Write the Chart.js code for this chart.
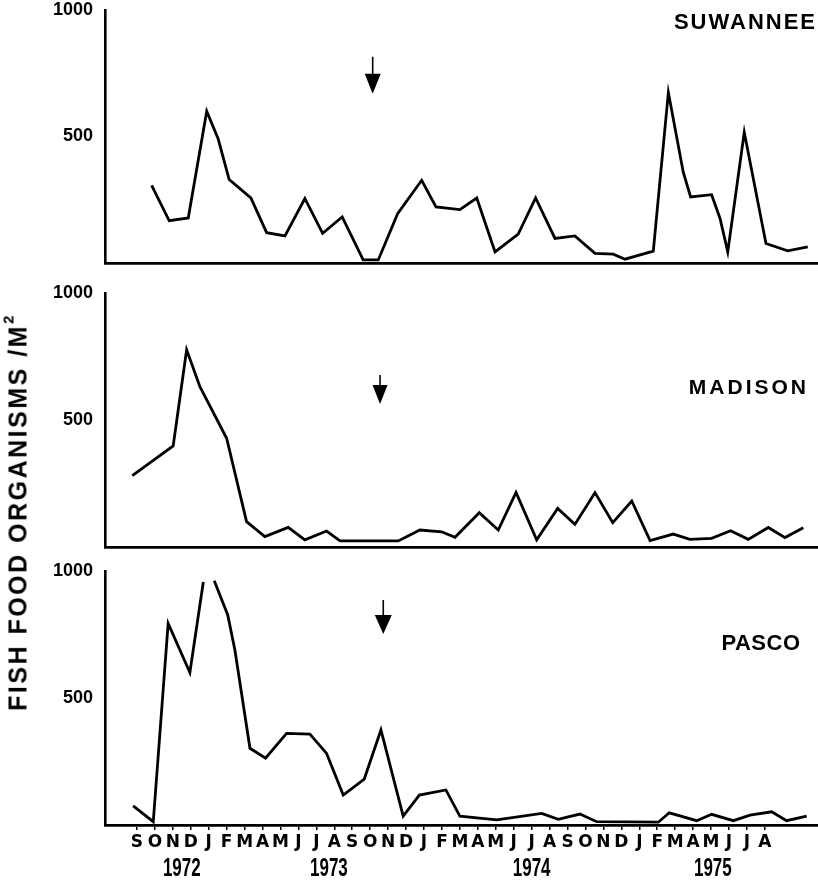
<!DOCTYPE html>
<html><head><meta charset="utf-8">
<script src="https://cdn.jsdelivr.net/npm/chart.js@4.4.1/dist/chart.umd.min.js"></script>
<style>
html,body{margin:0;padding:0;background:#fff;}
#wrap{position:relative;width:818px;height:881px;overflow:hidden;background:#fff;}
#wrap canvas{position:absolute;left:0;top:0;}
#ytitle{position:absolute;left:18px;top:512px;transform:translate(-50%,-50%) rotate(-90deg);white-space:nowrap;font-family:'Liberation Sans',Arial,sans-serif;font-weight:bold;font-size:25px;letter-spacing:2.5px;color:#000;}
#ytitle sup{font-size:15px;vertical-align:top;position:relative;top:-4px;}
</style></head>
<body><div id="wrap">
<canvas id="c1" width="818" height="881"></canvas>
<canvas id="c2" width="818" height="881"></canvas>
<canvas id="c3" width="818" height="881"></canvas>
<div id="ytitle">FISH FOOD ORGANISMS /M<sup>2</sup></div>
</div>
<script>
// ---- categories / tick labels ----
const monthLabels = ['S','O','N','D','J','F','M','A','M','J','J','A',
                     'S','O','N','D','J','F','M','A','M','J','J','A',
                     'S','O','N','D','J','F','M','A','M','J','J','A'];
const yearLabels = ['1972','1973','1974','1975'];
const yearTickMonths = [2.5, 10.7, 22.0, 32.1];
const yTickValues = [500, 1000];
const siteNames = ['SUWANNEE','MADISON','PASCO'];

// ---- series (x in months from Sep 1972, y in organisms / m2) ----
const suwanneeMonths = [0.82,1.80,2.86,3.89,4.53,5.14,6.35,7.23,8.25,9.36,10.35,11.44,12.61,13.45,14.53,15.87,16.67,18.00,18.94,19.96,21.25,22.22,23.30,24.41,25.53,26.55,27.20,28.78,29.62,30.45,30.86,32.03,32.50,32.93,33.85,35.06,36.27,37.39];
const suwanneeValues = [307,167,178,600,490,330,257,120,107,255,117,182,12,12,195,327,222,211,257,44,114,257,97,107,38,35,15,47,674,359,261,270,176,44,517,77,48,64];

const madisonMonths = [-0.26,2.02,2.77,3.51,5.00,6.11,7.13,8.43,9.36,10.57,11.32,14.57,15.77,16.98,17.73,19.08,20.14,21.13,22.28,23.45,24.41,25.53,26.52,27.58,28.60,29.89,30.82,32.03,33.09,34.07,35.19,36.12,37.14];
const madisonValues = [281,398,776,631,428,100,41,77,28,63,24,24,67,60,38,135,67,215,28,152,89,214,96,181,25,51,30,34,64,30,77,37,76];

const pascoMonths = [-0.21,0.91,1.74,2.95,3.70,4.0,4.31,5.06,5.46,6.30,7.17,8.34,9.64,10.57,11.50,12.67,13.60,14.84,15.74,17.22,18.00,20.05,22.56,23.48,24.69,25.62,29.06,29.67,31.20,32.03,33.24,34.17,35.38,36.21,37.33];
const pascoValues = [75,13,794,600,957,null,962,827,689,302,263,361,358,282,118,181,374,35,118,138,35,20,46,22,43,13,11,48,17,42,17,39,52,17,35];

// ---- arrows marking the event ----
const arrowMonths = [13.14, 13.55, 13.73];
const arrowTopValues = [815, 677, 886];
const arrowTipValues = [669, 563, 752];

// ---- layout / style (pixels) ----
const W = 818, H = 881;
const xMin = -1.78, xMax = 37.96;
const panelGeom = [
  {top:10,  bottom:263, titleY:23,  titleRight:815, titleSize:22, titleSpacing:2,   headW:16, headL:20},
  {top:293, bottom:547, titleY:388, titleRight:806, titleSize:21, titleSpacing:3,   headW:15, headL:19},
  {top:571, bottom:825, titleY:644, titleRight:800, titleSize:22, titleSpacing:0.5, headW:17, headL:19}
];
const FONT = "'Liberation Sans', Arial, sans-serif";
const HEAVY = "'DejaVu Sans', 'Liberation Sans', sans-serif";

const annot = {
  id: 'annot',
  afterDatasetsDraw(chart, args, o) {
    const {ctx} = chart;
    const x = chart.scales.x, y = chart.scales.y;
    ctx.save();
    ctx.strokeStyle = '#000'; ctx.fillStyle = '#000';
    // arrow
    const ax = x.getPixelForValue(o.arrowMonth);
    const yTop = y.getPixelForValue(o.arrowTop);
    const yTip = y.getPixelForValue(o.arrowTip);
    ctx.lineWidth = 1.6;
    ctx.beginPath(); ctx.moveTo(ax, yTop); ctx.lineTo(ax, yTip - o.headL + 2); ctx.stroke();
    ctx.beginPath();
    ctx.moveTo(ax - o.headW / 2, yTip - o.headL);
    ctx.lineTo(ax + o.headW / 2, yTip - o.headL);
    ctx.lineTo(ax, yTip);
    ctx.closePath(); ctx.fill();
    // site name
    ctx.font = 'bold ' + o.titleSize + 'px ' + FONT;
    ctx.letterSpacing = o.titleSpacing + 'px';
    ctx.textAlign = 'right'; ctx.textBaseline = 'middle';
    ctx.fillText(o.title, o.titleRight + o.titleSpacing, o.titleY);
    ctx.letterSpacing = '0px';
    // years
    if (o.years) {
      ctx.font = 'bold 25px ' + FONT;
      ctx.textAlign = 'center';
      yearLabels.forEach((lab, i) => {
        const px = x.getPixelForValue(yearTickMonths[i]);
        ctx.save();
        ctx.translate(px, 869);
        ctx.scale(0.68, 1);
        ctx.fillText(lab, 0, 0);
        ctx.restore();
      });
    }
    ctx.restore();
  }
};

function makeChart(id, months, values, idx, isBottom) {
  const g = panelGeom[idx];
  return new Chart(document.getElementById(id), {
    type: 'line',
    data: {datasets: [{
      data: months.map((m, i) => ({x: m, y: values[i]})),
      borderColor: '#000', borderWidth: 2.8, pointRadius: 0, tension: 0,
      spanGaps: false, fill: false
    }]},
    options: {
      responsive: false, animation: false, devicePixelRatio: 1,
      layout: {padding: {top: g.top, bottom: isBottom ? 0 : H - g.bottom, left: 0, right: 0}},
      plugins: {
        legend: {display: false}, tooltip: {enabled: false},
        annot: {
          arrowMonth: arrowMonths[idx], arrowTop: arrowTopValues[idx], arrowTip: arrowTipValues[idx],
          headW: g.headW, headL: g.headL,
          title: siteNames[idx], titleY: g.titleY, titleRight: g.titleRight,
          titleSize: g.titleSize, titleSpacing: g.titleSpacing,
          years: isBottom
        }
      },
      scales: {
        x: {
          type: 'linear', min: xMin, max: xMax,
          afterBuildTicks: s => { s.ticks = monthLabels.map((_, i) => ({value: i})); },
          afterFit: s => { s.height = isBottom ? H - g.bottom : 0; s.paddingLeft = 0; s.paddingRight = 0; },
          ticks: {
            display: isBottom, autoSkip: false, maxRotation: 0, minRotation: 0, padding: 2,
            color: '#000', font: {family: HEAVY, size: 17, weight: 'bold'},
            callback: (v, i) => monthLabels[i]
          },
          grid: {display: isBottom, drawOnChartArea: false, drawTicks: true, tickLength: 5, color: '#000', lineWidth: 1.5},
          border: {display: true, color: '#000', width: 2.8}
        },
        y: {
          type: 'linear', min: 0, max: 1000,
          afterBuildTicks: s => { s.ticks = yTickValues.map(v => ({value: v})); },
          afterFit: s => { s.width = 105; s.paddingTop = 0; s.paddingBottom = 0; },
          ticks: {color: '#000', padding: 12, font: {family: FONT, size: 18, weight: 'bold'}, callback: v => String(v)},
          grid: {display: false, drawTicks: false},
          border: {display: true, color: '#000', width: 2.6}
        }
      }
    },
    plugins: [annot]
  });
}

makeChart('c1', suwanneeMonths, suwanneeValues, 0, false);
makeChart('c2', madisonMonths, madisonValues, 1, false);
makeChart('c3', pascoMonths, pascoValues, 2, true);
</script>
</body></html>
